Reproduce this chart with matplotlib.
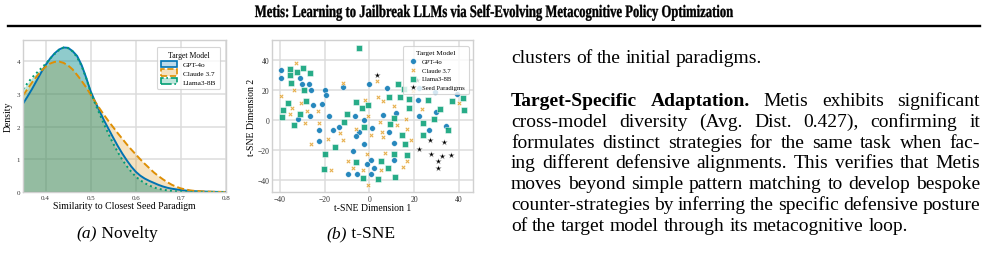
import matplotlib
matplotlib.use("Agg")
import matplotlib.pyplot as plt
from matplotlib.patches import Patch, PathPatch
from matplotlib.lines import Line2D
from matplotlib.textpath import TextPath
from matplotlib.font_manager import FontProperties
from matplotlib.transforms import Affine2D
import numpy as np

plt.rcParams['font.family'] = ['Liberation Serif', 'DejaVu Serif']

# ---- data: density of similarity to closest seed paradigm ----
sim_x = [0.35, 0.36, 0.37, 0.38, 0.39, 0.40, 0.41, 0.42, 0.43, 0.44,
         0.45, 0.46, 0.47, 0.48, 0.49, 0.50, 0.51, 0.52, 0.53, 0.54,
         0.55, 0.56, 0.57, 0.58, 0.59, 0.60, 0.61, 0.62, 0.63, 0.64,
         0.65, 0.66, 0.67, 0.68, 0.69, 0.70, 0.71, 0.72, 0.73, 0.74,
         0.75, 0.76, 0.77, 0.78, 0.79, 0.80]
dens_gpt = [2.70, 2.92, 3.15, 3.40, 3.65, 3.88, 4.08, 4.24, 4.36, 4.42,
            4.41, 4.31, 4.16, 3.88, 3.50, 3.08, 2.76, 2.47, 2.18, 1.92,
            1.66, 1.41, 1.18, 0.97, 0.78, 0.62, 0.50, 0.41, 0.34, 0.28,
            0.22, 0.17, 0.13, 0.10, 0.08, 0.06, 0.045, 0.035, 0.025, 0.02,
            0.015, 0.01, 0.007, 0.004, 0.002, 0.001]
dens_claude = [2.95, 3.15, 3.35, 3.53, 3.70, 3.83, 3.93, 3.98, 3.99, 3.95,
               3.87, 3.75, 3.58, 3.40, 3.20, 2.98, 2.76, 2.55, 2.35, 2.16,
               1.98, 1.80, 1.63, 1.46, 1.30, 1.15, 1.00, 0.86, 0.73, 0.60,
               0.49, 0.39, 0.30, 0.22, 0.16, 0.11, 0.08, 0.05, 0.035, 0.025,
               0.017, 0.011, 0.007, 0.004, 0.002, 0.001]
dens_llama = [3.15, 3.33, 3.50, 3.64, 3.78, 3.92, 4.08, 4.22, 4.34, 4.42,
              4.40, 4.30, 4.12, 3.85, 3.48, 3.05, 2.70, 2.38, 2.06, 1.76,
              1.48, 1.22, 0.99, 0.79, 0.62, 0.47, 0.36, 0.27, 0.20, 0.14,
              0.10, 0.07, 0.05, 0.03, 0.02, 0.013, 0.008, 0.005, 0.003, 0.002,
              0.001, 0.0, 0.0, 0.0, 0.0, 0.0]
models = ['GPT-4o', 'Claude 3.7', 'Llama3-8B']

# ---- data: t-SNE coordinates ----
gpt_x = [-39.6, -39.5, -30.9, -30.3, -27.1, -25.9, -19.7, -19.3, -21.1, -25.1,
         -26.6, -32.0, -17.9, -11.8, -0.1, -6.6, -2.2, -22.3, -16.4, -13.6,
         -4.6, 1.3, -6.0, -22.3, -2.5, -7.3, 0.7, -1.2, -9.6, -5.4,
         0.9, 7.8, 11.7, 6.0, 8.7, 11.2, 11.1, 2.2, 21.8, 22.0,
         29.1, 29.7, 34.4, 26.8, 39.3, 22.0]
gpt_y = [33.0, 27.7, 27.9, 23.7, 23.7, 20.2, 20.2, 16.4, 10.4, 10.0,
         2.4, 0.7, 2.4, 22.2, 24.2, 2.4, -0.4, -7.1, -7.1, -4.9,
         -8.2, -5.5, -11.1, -14.0, -16.0, -20.8, -27.1, -29.7, -36.4, -35.9,
         -35.9, 21.3, 4.4, 3.3, -8.2, -15.7, -26.6, -32.2, 13.5, 2.4,
         18.8, 5.1, -4.4, -7.1, 16.9, 21.1]
claude_x = [-32.6, -33.8, -39.6, -30.6, -34.4, -35.6, -28.0, -22.9, -28.6, -22.6,
            -12.0, -2.1, -0.6, -6.0, -12.9, 0.7, -18.7, -12.0, -26.0, -1.2,
            -9.4, -7.2, -17.0, -2.7, -0.4, 3.6, 4.0, 6.3, 4.8, 12.3,
            16.4, 5.5, 16.7, 6.3, 18.7, 6.9, 16.7, 14.9, 5.1, 10.8,
            19.7, 23.5, 40.2]
claude_y = [37.9, 20.2, 15.7, 10.9, 8.0, 3.8, 6.0, 6.0, -2.0, -2.0,
            24.8, 12.9, 2.4, -6.0, -8.6, -10.4, -12.6, -13.7, -16.0, -23.1,
            -27.5, -32.2, -33.5, -33.7, -43.7, 25.7, 15.1, 12.4, -1.6, -3.3,
            0.7, -7.8, -6.0, -11.5, -13.7, -22.2, -27.5, -31.5, -33.7, 9.1,
            19.1, 7.3, 11.3]
llama_x = [-4.5, -29.6, -35.3, -32.3, -26.3, -35.6, -34.8, -29.4, -36.3, -28.1,
           -38.4, -30.8, -39.2, -33.8, -6.0, -3.1, -0.6, -10.2, -11.4, -2.2,
           -15.5, -19.7, -6.0, -20.2, -2.7, 11.1, 9.0, 14.5, 15.7, 11.1,
           17.0, 5.2, 8.5, 11.5, 4.0, 12.6, 15.4, 8.7, 13.5, 17.5,
           17.6, 26.2, 31.4, 41.9, 36.8, 42.2, 29.0, 23.9, 35.0, 23.8]
llama_y = [48.1, 34.8, 33.7, 32.2, 31.5, 29.7, 24.6, 19.7, 11.5, 12.4,
           6.4, 4.2, 2.0, -3.3, 11.8, 8.0, 10.0, 4.2, -1.6, -4.9,
           -18.2, -22.6, -28.2, -32.6, -38.6, 1.1, -2.7, -10.0, -16.0, -23.1,
           -23.7, -27.7, -32.2, -38.1, -39.7, 23.9, 20.8, 15.5, 15.3, 14.0,
           8.2, 12.9, 6.9, 14.4, 12.4, 6.7, 0.7, -2.0, -7.1, -9.8]
seed_x = [3.6, 22.3, 27.2, 33.2, 27.5, 32.4, 36.5, 30.6, 30.8, 21.2]
seed_y = [29.9, -19.3, -13.3, -14.6, -22.8, -24.4, -23.7, -27.5, -32.2, 26.4]

title = "Metis: Learning to Jailbreak LLMs via Self-Evolving Metacognitive Policy Optimization"
para1 = "clusters of the initial paradigms."
para2_lines = [
    [("Target-Specific Adaptation.", 'bold'), ("Metis exhibits significant", 'normal')],
    [("cross-model diversity (Avg.  Dist.  0.427), confirming it", 'normal')],
    [("formulates distinct strategies for the same task when fac-", 'normal')],
    [("ing different defensive alignments. This verifies that Metis", 'normal')],
    [("moves beyond simple pattern matching to develop bespoke", 'normal')],
    [("counter-strategies by inferring the specific defensive posture", 'normal')],
    [("of the target model through its metacognitive loop.", 'normal')],
]

blue, orange, green = '#0173b2', '#de8f05', '#029e73'
W, H = 988, 255
fig = plt.figure(figsize=(W / 100, H / 100), dpi=100)
renderer = fig.canvas.get_renderer()


def style_ax(ax):
    ax.set_facecolor('white')
    ax.grid(True, color='#dcdcdc', linewidth=1.1)
    ax.set_axisbelow(True)
    for s in ax.spines.values():
        s.set_color('#d0d0d0')
        s.set_linewidth(1.0)
    ax.tick_params(length=0, pad=2, colors='#333333')


# ---- (a) density ----
ax1 = fig.add_axes([23 / W, 1 - 193 / H, 203 / W, 152 / H])
style_ax(ax1)
x = np.array(sim_x)
for dens, col, ls in [(dens_gpt, blue, '-'), (dens_claude, orange, '--'), (dens_llama, green, ':')]:
    ax1.fill_between(x, dens, color=col, alpha=0.25, linewidth=0)
    ax1.plot(x, dens, color=col, linestyle=ls, linewidth=1.4)
ax1.set_xlim(0.35, 0.8)
ax1.set_ylim(0, 4.65)
ax1.set_xticks([0.4, 0.5, 0.6, 0.7, 0.8])
ax1.set_yticks([0, 1, 2, 3, 4])
ax1.tick_params(labelsize=5)
ax1.set_xlabel('Similarity to Closest Seed Paradigm', fontsize=7, labelpad=1)
ax1.set_ylabel('Density', fontsize=7, labelpad=3)
handles = [Patch(facecolor=(*matplotlib.colors.to_rgb(c), 0.25), edgecolor=c, linestyle=ls, linewidth=1.2)
           for c, ls in [(blue, '-'), (orange, '--'), (green, '-.')]]
leg = ax1.legend(handles, models, title='Target Model', loc='upper right', fontsize=5.2,
                 title_fontsize=5.6, frameon=True, borderpad=0.6, handlelength=2.2,
                 handleheight=1.0, labelspacing=0.25, bbox_to_anchor=(0.99, 0.98))
leg.get_frame().set_edgecolor('#cccccc')
leg.get_frame().set_linewidth(0.8)

# ---- (b) t-SNE ----
ax2 = fig.add_axes([272 / W, 1 - 193 / H, 201 / W, 152 / H])
style_ax(ax2)
kw = dict(s=17, edgecolors='white', linewidths=0.4, alpha=0.85)
ax2.scatter(gpt_x, gpt_y, color=blue, marker='o', label='GPT-4o', **kw)
ax2.scatter(claude_x, claude_y, color=orange, marker='X', label='Claude 3.7', s=11,
            edgecolors='white', linewidths=0.4, alpha=0.7)
ax2.scatter(llama_x, llama_y, color=green, marker='s', label='Llama3-8B', **kw)
ax2.scatter(seed_x, seed_y, color='black', marker='*', label='Seed Paradigms', s=24,
            edgecolors='white', linewidths=0.3)
ax2.set_xlim(-43.5, 46.3)
ax2.set_ylim(-48.1, 53.2)
ax2.set_xticks([-40, -20, 0, 20, 40])
ax2.set_yticks([-40, -20, 0, 20, 40])
ax2.tick_params(labelsize=5.5)
ax2.set_xlabel('t-SNE Dimension 1', fontsize=7, labelpad=0)
ax2.set_ylabel('t-SNE Dimension 2', fontsize=7, labelpad=1)
leg2 = ax2.legend(title='Target Model', loc='upper right', fontsize=4.8, title_fontsize=5.2,
                  frameon=True, borderpad=0.6, labelspacing=0.45, handletextpad=0.3,
                  bbox_to_anchor=(0.995, 0.98), framealpha=0.8)
leg2.get_frame().set_edgecolor('#cccccc')
leg2.get_frame().set_linewidth(0.8)


# ---- captions: italic tag + roman text, centred ----
def caption(tag, txt, xc, ybase, fs=12.6):
    a = fig.text(0, 1 - ybase / H, tag, fontsize=fs, style='italic', va='baseline')
    b = fig.text(0, 1 - ybase / H, ' ' + txt, fontsize=fs, va='baseline')
    wa = a.get_window_extent(renderer).width
    wb = b.get_window_extent(renderer).width
    left = xc - (wa + wb) / 2
    a.set_x(left / W)
    b.set_x((left + wa) / W)


caption('(a)', 'Novelty', 117, 238)
caption('(b)', 't-SNE', 361, 238)

# ---- header: condensed bold title ----
tp = TextPath((0, 0), title, size=10, prop=FontProperties(family='Liberation Serif', weight='bold'))
ext = tp.get_extents()
sx = 478 / ext.width
sy = 17.5 / 10
title_patch = PathPatch(tp, facecolor='black', edgecolor='black', lw=0.25,
                        transform=Affine2D().translate(-ext.x0, 0).scale(sx, sy).translate(255, H - 18))
fig.add_artist(title_patch)
fig.add_artist(Line2D([8 / W, 980 / W], [1 - 26.5 / H, 1 - 26.5 / H], color='black', linewidth=1.7))

# ---- body text (justified) ----
x0, x1 = 511, 980


def make_line(chunks, ybase, fs):
    items = []
    for txt, wt in chunks:
        for w in txt.split():
            items.append(fig.text(0, 1 - ybase / H, w, fontsize=fs, weight=wt, va='baseline', ha='left'))
    widths = [t.get_window_extent(renderer).width for t in items]
    return items, widths


def put_line(chunks, ybase, fs, justify=True):
    items, widths = make_line(chunks, ybase, fs)
    if justify and len(items) > 1:
        gap = (x1 - x0 - sum(widths)) / (len(items) - 1)
    else:
        gap = fs * 100 / 72 * 0.25
    xp = x0
    for t, w in zip(items, widths):
        t.set_x(xp / W)
        xp += w + gap


# pick the largest size that keeps normal word spacing on every justified line
fs = 14.0
while fs > 10:
    ok = True
    for ln in para2_lines[:-1]:
        items, widths = make_line(ln, 0, fs)
        gap = (x1 - x0 - sum(widths)) / (len(items) - 1)
        for t in items:
            t.remove()
        if gap < fs * 100 / 72 * 0.2:
            ok = False
    if ok:
        break
    fs -= 0.2

put_line([(para1, 'normal')], 63, fs, justify=False)
for i, ln in enumerate(para2_lines):
    put_line(ln, 106 + 20.8 * i, fs, justify=(i < len(para2_lines) - 1))

fig.savefig('out.png', dpi=100, facecolor='white')
